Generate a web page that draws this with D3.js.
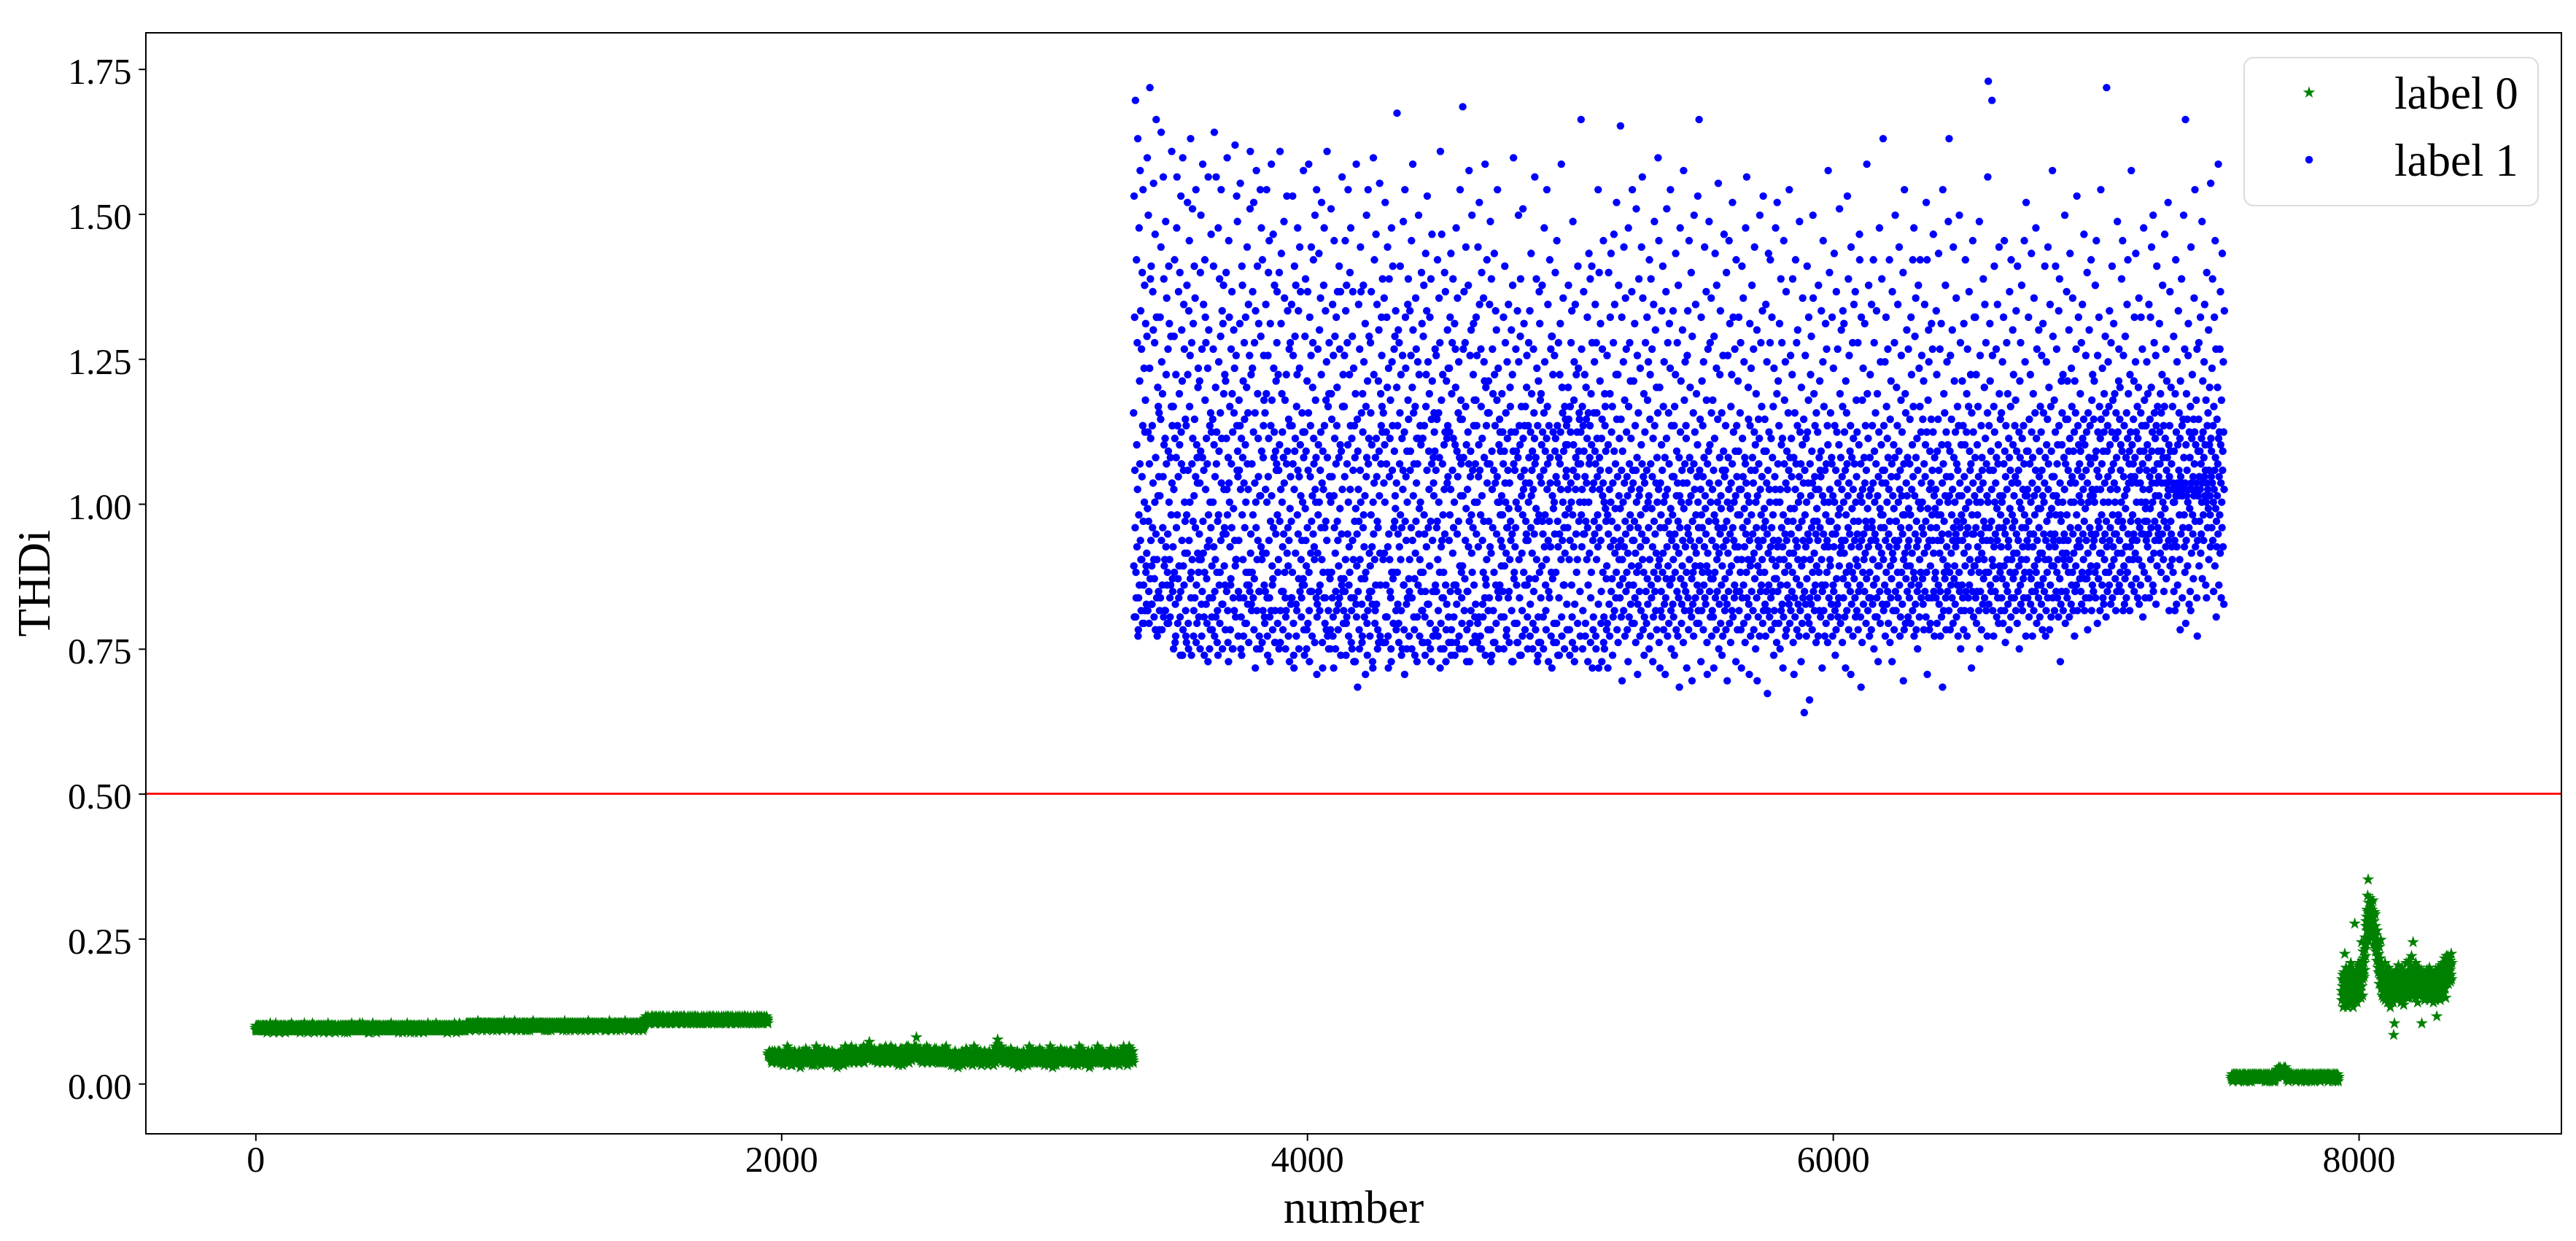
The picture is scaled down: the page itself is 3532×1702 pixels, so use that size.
<!DOCTYPE html>
<html><head><meta charset="utf-8">
<script src="https://cdn.jsdelivr.net/npm/d3@7"></script>
<style>html,body{margin:0;padding:0;background:#fff;}svg{display:block;}</style>
</head><body>
<script>
// ---------------- data ----------------
const seriesNames = ["label 0", "label 1"];
const xLabel = "number";
const yLabel = "THDi";
const xTicks = [0, 2000, 4000, 6000, 8000];
const yTicks = [0, 0.25, 0.5, 0.75, 1.0, 1.25, 1.5, 1.75];
const xLimits = [-417, 8771];
const yLimits = [-0.0865, 1.8125];
const thresholdValue = 0.5;

// label 0 (green stars): each 2-digit code -> THDi = code * 0.004 ; consecutive sample numbers from the segment start
const label0Step = 0.004;
const label0Starts = [0, 1950, 7515, 7935];
const label0Codes = [
`24232524232524242325 23242524232425232424 25232423242524232524 24252324232524242325 23242524222524232423
24242523242326242324 25242324252423242522 23252424232524262324 24232425242325242423 22242524232524232425
25232423242524232524 23242524222524232423 24232524232524242325 23252424232524262324 23242524232425232424
24232425242325242423 24252324232524242325 22242524232524232425 24242523242326242324 25242324252423242522
23242524232425232424 23252424232524262324 23242524222524232423 24232524232524242325 24232425242325242423
25242324252423242522 25232423242524232524 24242523242326242324 22242524232524232425 24252324232524242325
23242524222524232423 24232425242325242423 23242524232425232424 25242324252423242522 24232524232524242325
22242524232524232425 24242523242326242324 24252324232524242325 25232423242524232524 23252424232524262324
23252424232524262324 24232524232524242325 25242324252423242522 23242524222524232423 24242523242326242324
24252324232524242325 22242524232524232425 24232425242325242423 23242524232425232424 25232423242524232524
24232524232524242325 24242523242326242324 25232423242524232524 24232425242325242423 23242524222524232423
25242324252423242522 23242524232425232424 23252424232524262324 24252324232524242325 22242524232524232425
23242524222524232423 25232423242524232524 22242524232524232425 25242324252423242522 23242524232425232424
24242523242326242324 24232425242325242423 24232524232524242325 23252424232524262324 24252324232524242325
23242524232425232424 24252324232524242325 25242324252423242522 22242524232524232425 24232425242325242423
23252424232524262324 23242524222524232423 24242523242326242324 25232423242524232524 24232524232524242325
25242625242526252426 24252625232526242525 26252425262425252624 25262425242625232526 24252526252427252425
25242526252624252625 26252423252625242526 25262524252625262423 25242625242526252426 26252425262425252624
24252625232526242525 25262425242625232526 25242526252624252625 25262524252625262423 24252526252427252425
26252425262425252624 25242625242526252426 26252423252625242526 24252526252427252425 24252625232526242525
25262524252625262423 25242526252624252625 25262425242625232526 24252625232526242525 26252423252625242526
24252526252427252425 26252425262425252624 25242625242526252426 25242526252624252625 25262524252625262423
25262425242625232526 26252423252625242526 24252625232526242525 26252425262425252624 25242526252624252625
25242625242526252426 25262524252625262423 24252526252427252425 26252423252625242526 25262425242625232526
25242526252624252625 24252625232526242525 26252425262425252624 25262524252625262423 25242625242526252426
26252423252625242526 24252526252427252425 25262425242625232526 25242625242526252426 24252625232526242525
26252425262425252624 25242526252624252625 25262524252625262423 24252625232526242525 24252526252427252425
24252625232526242525 25242625242526252426 26252423252625242526 25262425242625232526 26252425262425252624
24252526252427252425 25262524252625262423 25242526252624252625 26252425262425252624 26252423252625242526
25262425242625232526 25242625242526252426 24252625232526242525 27282726282927282728 28272829272628272827
27282827262827292827 28292728272827262829 27262828272928272827 28272728292827282726 29282727282628272928
27282928272728262827 27282726282927282728 28272829272628272827 27282827262827292827 28292728272827262829
27262828272928272827 28272728292827282726 29282727282628272928 27282928272728262827 27282726282927282728
28272829272628272827 28292728272827262829 28272728292827282726 27282928272728262827 27282827262827292827
27282726282927282728 27282827262827292827 27262828272928272827 29282727282628272928 28272829272628272827
28272728292827282726 27282928272728262827 28272829272628272827 28292728272827262829 27262828272928272827
29282727282628272928 27262828272928272827 27282827262827292827 27282726282927282728 27282928272728262827
28292728272827262829 28272829272628272827 27282928272728262827 28272728292827282726 27282726282927282728
27282827262827292827 29282727282628272928 27282726282927282728 27262828272928272827 28272728292827282726`,
`13121312131412131213 12131011091214101211 13121312131412131213 11101213091112101411 10121114111009121311
12091110131211081210 13111012101211141009 11121016111209131511 09111213101108121112 11081210131112091013
10141211101309111211 11101213091112101411 11090712101113081211 10121114111009121311 10111315091210111412
12131011091214101211 12091110131211081210 09111213101108121112 11121016111209131511 13111012101211141009
11081210131112091013 10111315091210111412 11101213091112101411 10141211101309111211 10121114111009121311
09111213101108121112 11090712101113081211 12131011091214101211 12091110131211081210 11121016111209131511
13111012101211141009 13121514111312161213 10141211101309111211 12141113151210141312 11101213091112101411
14111315121413111215 11121016111209131511 13121514111312161213 12131114151812131411 12141113151210141312
12141113151210141312 10121114111009121311 14111315121413111215 12131011091214101211 13121514111312161213
11101213091112101411 13121514111312161213 10111315091210111412 12141113151210141312 09111213101108121112
14111315121413111215 11081210131112091013 13121514111312161213 11121016111209131511 12141113151210141312
13121514111312161213 11131416201513121412 14111315121413111215 10141211101309111211 12141113151210141312
11121016111209131511 12141113151210141312 11101213091112101411 14111315121413111215 13111012101211141009
10121114111009121311 10111315091210111412 13121514111312161213 12131011091214101211 12091110131211081210
09111213101108121112 10141211101309111211 11090712101113081211 11101213091112101411 11081210131112091013
10111315091210111412 13111012101211141009 12091110131211081210 11121016111209131511 12131011091214101211
11101213091112101411 11081210131112091013 10121114111009121311 09111213101108121112 10141211101309111211
12091110131211081210 11121016111209131511 12141319171312111310 13121514111312161213 13111012101211141009
12131011091214101211 10121114111009121311 10111315091210111412 11081210131112091013 11101213091112101411
11090712101113081211 09111213101108121112 10141211101309111211 12091110131211081210 11121016111209131511
13111012101211141009 11101213091112101411 12131011091214101211 10111315091210111412 10121114111009121311
11081210131112091013 12091110131211081210 11121016111209131511 11090712101113081211 09111213101108121112
10141211101309111211 10111315091210111412 13111012101211141009 12131011091214101211 11101213091112101411
10121114111009121311 11081210131112091013 12091110131211081210 11121016111209131511 10111315091210111412
09111213101108121112 11101213091112101411 11090712101113081211 10141211101309111211 12131011091214101211
11121016111209131511 13111012101211141009 10121114111009121311 12091110131211081210 11081210131112091013
10111315091210111412 12131011091214101211 11101213091112101411 09111213101108121112 10141211101309111211
13111615121110121311 12091110131211081210 11121016111209131511 13111012101211141009`,
`03020304020301030204 02030403020203040302 04020302030402010303 03040203020304020302 02030204030203030401
04020302030402010303 02030204030203030401 03020304020301030204 02030403020203040302 03040203020304020302
02030403020203040302 03040203020304020302 02030204030203030401 03020304020301030204 04020302030402010303
02030204030203030401 03020304020301030204 04050306040504060305 05070406050407050406 04050306040504060305
05070406050407050406 04020302030402010303 02030403020203040302 03040203020304020302 03020304020301030204
03040203020304020302 03020304020301030204 02030204030203030401 04020302030402010303 02030403020203040302
03020304020301030204 04020302030402010303 02030403020203040302 02030204030203030401 03040203020304020302
02030403020203040302 02030204030203030401 03040203020304020302 03020304020301030204 04020302030402010303
04020302030402010303`,
`40364538424733443948 35465643394137504534 42384733454049364137 46394435505242384743 36454140334837464439
69424538474036444935 43475139455241384644 48404550374761424953 38455747544652604958 63556870607266757081
74886278697365807168 76647270786675637479 67726070657462735968 57645861536655625060 48565243595147544962
45415046384249444037 43474139455236444841 38444246403547433950 42374544413348463943 40463842474435412145
44263843454037494241 36474044384251433946 41453748434035464250 39443647414534484340 46384245394752414437
43484140465337444942 45395147424455384643 40466145434950384447 42375246444139484535 47424439504643384145
38444947412644404643 45413848434736424439 40464345374942413844 47394442503645433841 43374846404439474235
44404745384342364946 41452943473944405037 46424139483643455144 38474442405245394641 43495446415037484455
47524449555043514854 50464953445147564552`
];

// label 1 (blue dots): each 2-digit code -> THDi = 0.64 + code * 0.011 ; consecutive sample numbers from label1Start
const label1Start = 3340;
const label1Offset = 0.64;
const label1Step = 0.011;
const label1Codes = `
47238115623829961522 18714226583590121318 31762052398527632416 57243769144582302014 54336744164961222317
25598732164478301914 39549821684327701723 17452966366083241521 58337513402893621824 12625134481937471316
34621846739127551320 50293784156842231624 43167726533965201422 28574114703361241815 40205931488836452119
26481035592271431117 12534029768431451421 37661823504269150919 81443960275209871323 38642057332530461612
45113167258053381410 63277448335621901822 09583924794330611216 34704618652937821120 42144036255154221524
28523610694178241712 57194086302564381509 22714962355817432114 39265408843160271810 45331347297544152313
18463357702642911219 37245115843944221116 30097631554120681422 47592782364317631017 61286750352329532013
52286943193587311611 40087436623348261320 21573929665010441018 32604716542789231524 56248145387741371219
27493818614583351015 43097031674024521218 36584629144262332214 51207339174735641120 22561979882528531716
39225466311844801321 58364707633329851016 24705027433761191219 34108234592676412411 71251640455649201514
47193564255082331812 09563769432774181508 61304516863449232013 21752954404467111611 41285238395866311422
53243810694230881116 35617219503344261319 40287736652249181015 16533981254163292312 46275708453258371718
30641845228139561409 07357041594325671712 48165331763828632110 37547319426634241518 27472033442185401320
09445932682741231013 52296614384786221608 62193745255673301912 34515828714339262411 78354933401882061517
25573142197233601620 38654429538024361107 41223567187645291418 63304913552788401222 48161050583437211013
33795022463718641215 56073474294359251019 39621645513066271317 23407018573242660921 41282084354819531416
21485637197424630914 67153958284282331220 26532269354576181116 43105927663824540818 45304008503217861523
28460441193564301310 57243873336621471711 12504429673155261521 34610622483778401409 52168239184359251912
23584731661942261708 07338728533671241416 40207543173764301013 29521160413483251220 50394562564844681124
47113665254233801115 20443962155173261207 54286837244319491810 08762255384570211422 29574130593432631613
36519422451728601411 58263947703124531609 29431056353877202013 44068230625437271710 41331864496846211219
24633841185629741018 51278660344715391321 09482565305736430815 39552043782853321224 45332242196916611116
43225911673145281509 19724853266338811711 55291741355023621410 30680846397552271912 40363447441941572013
38561929463071241216 47336540225807881014 26497527183953311822 10423569284466200813 52174336604537541511
27544431621935720913 50115838256843291520 33610942575120761117 41286537194730551210 40238246344939221814
46239534574010661610 21582748733242081319 35194467263985300814 56374116603125782211 38295361452049331512
39174962284556331114 73263742158064381012 31574810693443271715 22653055405218860921 51204524713639471316
52304718643926771308 25680941355729501611 38227253114536632014 60284937823319541018 42334620443141271523
34502631441939621015 41237036583347251213 29554329381864321911 36245148302744601608 28536708418739212214
38264429573341201411 63114032785524451809 42596837094834251612 31794335226138452013 48363027285156201510
27453358402136631217 44297234503825411014 35571947284384392113 40326824543008450915 52113166226137491118
50364223673044281510 38477626553141201613 24438235483964270819 45301871403626571222 59075934215344321114
33562841694322371114 74364530092658401809 28533961443524861512 51274733652041292010 48253146423738451713
42293551674632241309 27484436583320631511 31773842264955081710 64354028532237442414 70395441304746331912
39449331572635481016 45286641332853371214 30514636244362290820 47337239254045681118 50224270580735271315
36473055284164391210 58244743373126821707 29694035523861271419 43084657342236741115 33105045483241302113
23561431074228693817 35125062263372194430 21480936155827754116 64253239185322804613 29375311266734244320
18329227461538620524 41213355167326364912 30652819574422371334 25087648201539582931 52174335236614822738
36205227143061184525 11387933224056061729 47236834193512542631 16427328398424651337 22500915364427583219
27143862214917335529 34107124465312396820 18325737260843156422 30774519286016362551 13403321478723357411
24510729361631194263 15382270254813335517 29400634186621437926 35125823304714396128 20548232161045272137
31176324153745094828 22537226133441195836 12306718254004342976 44215233141738236027 36118532204916395526
19454322073656296318 28133374244016512738 34691521055930172247 12397826354423186431 25501437204281331629
14932738194623350862 31165229224537135520 40267318343217286649 23110639255722413077 36194258153321654712
27163549211538075931 43227218302613546724 19334629833610251740 53286314343220470923 38125626412975183716
21384513276930170533 56254019357422146128 32114836235316398029 15624427331820572641 34087119453724133152
26416216351931472258 13350724701843293765 20145532264011397628 36228418303415245146 17330627614523123854
31196724402816365713 25447321384210335029 18600534232715463926 43127822351958312048 37246314278116294132
22461730126441193655 28031638257220443515 33587126184313296224 40193148270954162137 14357623332111508026
19395227144524613310 35206816422958174326 07311574243949222855 12366613274120353018 47233817822514403256
16284337195322683011 25400632184715357127 39215813264560241733 29123777204416343908 51233014426518273646
24001938315617264312 33217044152836496214 27021839245334175929 41133622786519305025 16374520352811472332
30184427126735224016 52293815374163242007 19345574281648332612 38206131143957222745 11428526331830693524
23471530174039622812 34205419267233451609 28381366214429175736 15311842237932502514 40266027353711486321
18336125441527380752 31224716398120342968 13365623284119450673 26174032225812354330 64213927186615332449
37164428235813301942 26757120341539046227 33114935225417282440 19613625453014382186 29503216432667183412
22405318352713643029 45172436712010584133 28154727392163181550 34230837264423761932 14552931422568361738
31902416452938205512 27366222481733431957 40142835267130114623 18523721390866253416 24423213582740781930
16305126374522641833 27417320351238152949 56223444172831690524 39138231255014472136 23603419402615573227
29183946233114622053 35254216713748227612 21345928176540133026 43191038276733205415 24487132224418365629
33214617285213392564 19374230158022447106 26324918605527133541 14232936466118313857 27447525193412402132
22351863295314412731 46207238173325571912 31276115422836048224 39165030224721346718 13443726552319423377
28169034224113563720 25463118603527147329 40215223331744262865 15393020483812274534 22781936295810164231
34205227184530136125 37164223713219284450 12355729261848336620 41243816533922074731 28197436441528236234
23406218295314331942 31264824371622771035 56193328451325403827 17366821302451186429 43225816392734124784
33992217452938615220 27411930359624561623 38124826704433192836 21574015322764183942 14297350233422463116
26471833215534142962 39237416412811374520 30583524195017262743 13406632223848157118 24363129604221532534
18304522374916632841 25147036192738234410 33524020581732246729 43162635214518397431 22553429128024413427
35184126623015462239 28531733217244193612 40265028166534233147 19387622431457273520 24321860293741152548
32204417563825133461 21472833193670244012 27165542302246187335 39245126133164202848 15413223378518593427
23374916282644703119 34572239184224331563 45276821360831173052 19424725335316272440 28357823143946192566
31185246273822416015 24437229363317542048 37226528164125334412 52193647235720318126 16384529624227343921
26504119335817372264 43283524467530164221 32185638274421693613 25473322406018294534 39237128164935205326
34194627523340226718 28417435233814564430 21376229482516433582 46253139205427184133 17445024362859224715
30982641194537553322 48206327422935175838 23447018314926396124 36285033214316472840 19357725443031525720
27465122384219336825 41307429165637234517 34215932264018473564 22437128503624394116 53264430378520364227
31243946285219623740 25557221443327364818 43305124651738294136 20476233284523573915 35287641224930451832
33452738553042265021 40286435183746326224 29517341364433207819 38255847302743345617 45367023394829412837
34276144392550312247 41365328673340244519 30487532433626572138 52294036348035274216 37456623413051283926
35244836223359194133 27165035713444172655 36204234633538473124 43135237283668344518 34294635784031265722
36931442275034384623 33566135291744324019 48167336254335533128 37214634653944823026 42354936185712273441
34465823373041356225 39284333772136524431 27405537643442382049 33186936452935473260 24384251343126834337
41295436682745331948 35623823744032571530 26463451392886432037 44315725664236184933 29723841265544173563`;

// ---------------- decode ----------------
function decode(text, start, offset, step) {
  const pts = [];
  let i = 0;
  text.trim().split(/\s+/).forEach(tok => {
    for (let k = 0; k + 1 < tok.length; k += 2) {
      pts.push([start + i, offset + step * (+tok.substr(k, 2))]);
      i++;
    }
  });
  return pts;
}
const label0Points = [];
label0Codes.forEach((c, s) => decode(c, label0Starts[s], 0, label0Step).forEach(p => label0Points.push(p)));
const label1Points = decode(label1Codes, label1Start, label1Offset, label1Step);

// ---------------- layout ----------------
const W = 3532, H = 1702;
const plot = { left: 200, right: 3512, top: 45, bottom: 1555 };
const FONT = "'Liberation Serif','Times New Roman',Times,serif";
const svg = d3.select("body").append("svg").attr("width", W).attr("height", H)
  .style("font-family", FONT);
svg.append("rect").attr("width", W).attr("height", H).attr("fill", "#fff");

const x = d3.scaleLinear().domain(xLimits).range([plot.left, plot.right]);
const y = d3.scaleLinear().domain(yLimits).range([plot.bottom, plot.top]);

const starSize = 87;   // area -> outer radius ~8.8px
const dotR = 5.2;
const starPath = d3.symbol().type(d3.symbolStar).size(starSize)();

// green stars
svg.append("g").attr("fill", "#008000")
  .selectAll("path").data(label0Points).join("path")
  .attr("d", starPath)
  .attr("transform", d => `translate(${x(d[0]).toFixed(2)},${y(d[1]).toFixed(2)})`);

// blue dots
svg.append("g").attr("fill", "#0000ff")
  .selectAll("circle").data(label1Points).join("circle")
  .attr("cx", d => x(d[0])).attr("cy", d => y(d[1])).attr("r", dotR);

// threshold line
svg.append("line")
  .attr("x1", plot.left).attr("x2", plot.right)
  .attr("y1", y(thresholdValue)).attr("y2", y(thresholdValue))
  .attr("stroke", "#ff0000").attr("stroke-width", 2.6);

// axes
const xAxis = svg.append("g").attr("transform", `translate(0,${plot.bottom})`)
  .call(d3.axisBottom(x).tickValues(xTicks).tickFormat(d3.format("d")).tickSize(9.7));
xAxis.select(".domain").remove();
xAxis.selectAll("line").attr("stroke", "#000").attr("stroke-width", 2);
xAxis.selectAll("text").attr("y", 52).attr("dy", null)
  .style("font-family", FONT).style("font-size", "50px").attr("fill", "#000");

const yAxis = svg.append("g").attr("transform", `translate(${plot.left},0)`)
  .call(d3.axisLeft(y).tickValues(yTicks).tickFormat(d3.format(".2f")).tickSize(9.7));
yAxis.select(".domain").remove();
yAxis.selectAll("line").attr("stroke", "#000").attr("stroke-width", 2);
yAxis.selectAll("text").attr("x", -19.5).attr("y", 20).attr("dy", null)
  .style("font-family", FONT).style("font-size", "50px").attr("fill", "#000");

// frame
svg.append("rect").attr("x", plot.left).attr("y", plot.top)
  .attr("width", plot.right - plot.left).attr("height", plot.bottom - plot.top)
  .attr("fill", "none").attr("stroke", "#000").attr("stroke-width", 2);

// axis labels
svg.append("text").attr("x", (plot.left + plot.right) / 2).attr("y", 1677)
  .attr("text-anchor", "middle").style("font-size", "63px").text(xLabel);
svg.append("text").attr("transform", `translate(68,${(plot.top + plot.bottom) / 2}) rotate(-90)`)
  .attr("text-anchor", "middle").style("font-size", "63px").text(yLabel);

// legend
const lg = svg.append("g");
lg.append("rect").attr("x", 3077).attr("y", 79).attr("width", 403).attr("height", 203)
  .attr("rx", 13).attr("ry", 13).attr("fill", "#fff").attr("fill-opacity", 0.8)
  .attr("stroke", "#dcdcdc").attr("stroke-width", 2.2);
lg.append("path").attr("d", starPath).attr("transform", "translate(3166,127)").attr("fill", "#008000");
lg.append("circle").attr("cx", 3166).attr("cy", 219).attr("r", dotR).attr("fill", "#0000ff");
lg.append("text").attr("x", 3283).attr("y", 149).style("font-size", "63px").text(seriesNames[0]);
lg.append("text").attr("x", 3283).attr("y", 241).style("font-size", "63px").text(seriesNames[1]);
</script>
</body></html>
